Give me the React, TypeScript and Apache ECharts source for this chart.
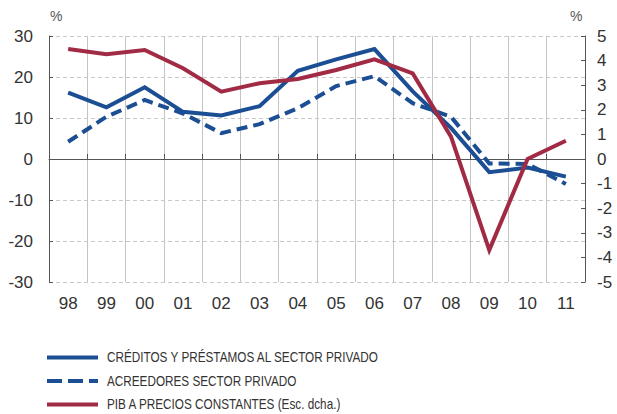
import React, { useEffect, useRef } from "react";
import * as echarts from "echarts";

const categories = ["98", "99", "00", "01", "02", "03", "04", "05", "06", "07", "08", "09", "10", "11"];
const creditos = [16.2, 12.6, 17.5, 11.5, 10.6, 12.9, 21.5, 24.3, 26.8, 16.5, 7.6, -3.2, -2.1, -4.3];
const acreedores = [4.2, 10.3, 14.4, 11.1, 6.3, 8.5, 12.4, 17.8, 20.2, 13.6, 10.3, -1.1, -1.2, -6.1];
const pib = [4.47, 4.26, 4.43, 3.69, 2.74, 3.08, 3.25, 3.62, 4.05, 3.48, 0.91, -3.7, 0.0, 0.74];

const seriesNames = [
  "CRÉDITOS Y PRÉSTAMOS AL SECTOR PRIVADO",
  "ACREEDORES SECTOR PRIVADO",
  "PIB A PRECIOS CONSTANTES (Esc. dcha.)",
];

const BLUE = "#1b4e92";
const RED = "#a12a44";
const AXIS = "#555555";
const FONT = "'Liberation Sans', Arial, sans-serif";

export default function App() {
  const ref = useRef<HTMLDivElement>(null);
  useEffect(() => {
    if (!ref.current) return;
    const chart = echarts.init(ref.current, undefined, { renderer: "svg" });
    const legendRows = [
      { name: seriesNames[0], color: BLUE, dash: null as number[] | null, y: 357.5 },
      { name: seriesNames[1], color: BLUE, dash: [15, 6], y: 381 },
      { name: seriesNames[2], color: RED, dash: null, y: 404.5 },
    ];
    const legendGraphics: any[] = [];
    legendRows.forEach((r) => {
      legendGraphics.push({
        type: "line",
        shape: { x1: 47, y1: r.y, x2: 98, y2: r.y },
        style: { stroke: r.color, lineWidth: 4, lineDash: r.dash || undefined, lineCap: "butt" },
      });
      legendGraphics.push({
        type: "text",
        x: 107,
        y: r.y,
        scaleX: 0.84,
        style: {
          text: r.name,
          fontSize: 14,
          fill: "#333",
          fontFamily: FONT,
          verticalAlign: "middle",
          align: "left",
        },
      });
    });
    chart.setOption({
      animation: false,
      backgroundColor: "#ffffff",
      grid: { left: 49, right: 32, top: 36, bottom: 132, containLabel: false },
      graphic: [
        { type: "text", left: 50, top: 9, style: { text: "%", fontSize: 14, fill: "#555", fontFamily: FONT } },
        { type: "text", left: 570, top: 9, style: { text: "%", fontSize: 14, fill: "#555", fontFamily: FONT } },
        ...legendGraphics,
      ],
      xAxis: [
        {
          type: "category",
          data: categories,
          boundaryGap: true,
          position: "bottom",
          axisLine: { show: false, onZero: false },
          axisTick: { show: false },
          axisLabel: { fontSize: 17, color: "#333", margin: 13, fontFamily: FONT },
          splitLine: { show: true, lineStyle: { color: "#c4c4c4", width: 1, type: "solid" } },
        },
        {
          type: "category",
          data: categories,
          boundaryGap: true,
          position: "bottom",
          axisLine: { show: true, onZero: true, onZeroAxisIndex: 0, lineStyle: { color: AXIS, width: 1 } },
          axisTick: { show: true, inside: true, length: 5, lineStyle: { color: AXIS } },
          axisLabel: { show: false },
          splitLine: { show: false },
        },
      ],
      yAxis: [
        {
          type: "value",
          min: -30,
          max: 30,
          interval: 10,
          position: "left",
          axisLine: { show: true, lineStyle: { color: AXIS, width: 1 } },
          axisTick: { show: true, inside: true, length: 4, lineStyle: { color: AXIS } },
          axisLabel: { fontSize: 17, color: "#333", margin: 16, fontFamily: FONT },
          splitLine: { show: true, lineStyle: { color: "#c8c8c8", width: 1, type: [4, 3] } },
        },
        {
          type: "value",
          min: -5,
          max: 5,
          interval: 1,
          position: "right",
          axisLine: { show: true, lineStyle: { color: AXIS, width: 1 } },
          axisTick: { show: true, inside: true, length: 4, lineStyle: { color: AXIS } },
          axisLabel: { fontSize: 17, color: "#333", margin: 12, fontFamily: FONT },
          splitLine: { show: false },
        },
      ],
      series: [
        {
          name: seriesNames[0],
          type: "line",
          xAxisIndex: 0,
          yAxisIndex: 0,
          data: creditos,
          symbol: "none",
          color: BLUE,
          lineStyle: { color: BLUE, width: 4, cap: "butt", join: "miter" },
          z: 2,
        },
        {
          name: seriesNames[1],
          type: "line",
          xAxisIndex: 0,
          yAxisIndex: 0,
          data: acreedores,
          symbol: "none",
          color: BLUE,
          lineStyle: { color: BLUE, width: 4, type: [11, 6], cap: "butt", join: "miter" },
          z: 2,
        },
        {
          name: seriesNames[2],
          type: "line",
          xAxisIndex: 0,
          yAxisIndex: 1,
          data: pib,
          symbol: "none",
          color: RED,
          lineStyle: { color: RED, width: 4, cap: "butt", join: "miter" },
          z: 3,
        },
      ],
    });
    return () => chart.dispose();
  }, []);
  return <div ref={ref} style={{ width: 617, height: 414, position: "absolute", left: 0, top: 0 }} />;
}
